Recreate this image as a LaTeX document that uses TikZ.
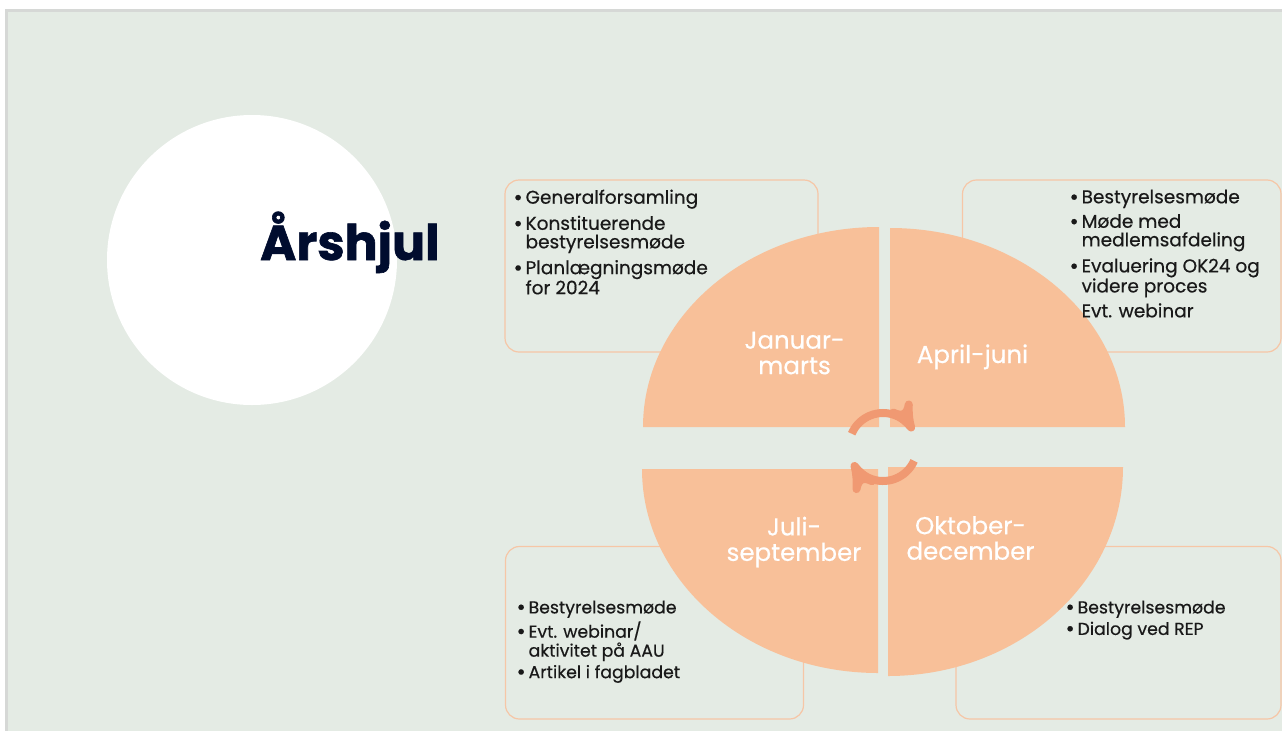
\documentclass[tikz,border=0pt]{standalone}
\usepackage{fontspec}
\setmainfont{Poppins}
\newfontfamily\medium{Poppins}[FakeBold=0.45]
\newfontfamily\heavy{Poppins}[BoldFeatures={FakeBold=1.2}]
\usepackage{tikz}
\usetikzlibrary{arrows}
\definecolor{bggreen}{RGB}{228,235,228}
\definecolor{edgegray}{RGB}{214,216,214}
\definecolor{peach}{RGB}{248,192,153}
\definecolor{boxline}{RGB}{246,198,166}
\definecolor{cyclecol}{RGB}{240,153,114}
\definecolor{navy}{RGB}{0,12,46}
\tikzstyle{quarter} = [fill=peach]
\tikzstyle{slot} = [draw=boxline, line width=1.2pt, rounded corners=14pt,
    minimum width=313pt, minimum height=172pt]
\tikzstyle{items} = [inner sep=0pt, align=left, anchor=north west, text=black!90]
\tikzstyle{bigitems} = [items, font=\medium\fontsize{18.5}{18.5}\selectfont]
\tikzstyle{smallitems} = [items, font=\medium\fontsize{17.3}{19}\selectfont]
\tikzstyle{season} = [text=white, align=center, font=\medium\fontsize{24.5}{25.5}\selectfont]
\tikzstyle{cyc} = [draw=cyclecol, line width=8pt, -stealth']
\newcommand{\blt}{\makebox[12pt][l]{\raisebox{-1.2pt}{\fontsize{22}{0}\selectfont\textbullet}}}
\newcommand{\ind}{\hspace*{12pt}}
\begin{document}
\begin{tikzpicture}[x=1pt,y=-1pt]
  \useasboundingbox (0,0) rectangle (1282,731);
  \fill[white] (0,0) rectangle (1282,731);
  \fill[edgegray] (5,9) rectangle (1282,731);
  \fill[bggreen] (8,12) rectangle (1282,731);
  \fill[white] (252,260) circle[radius=145];

  \node[slot]                                          (janbox) at (661.5,266) {};
  \node[slot, minimum width=318.5pt]                   (aprbox) at (1121.75,266) {};
  \node[slot, minimum width=298pt, minimum height=172.5pt] (julbox) at (654.5,632.75) {};
  \node[slot, minimum width=325pt, minimum height=172.5pt] (oktbox) at (1118.5,632.75) {};

  \fill[quarter] (879,427) -- (643,427) arc[start angle=180, end angle=270, x radius=236, y radius=200] -- cycle;
  \fill[quarter] (890,427) -- (890,228) arc[start angle=270, end angle=360, x radius=235, y radius=199] -- cycle;
  \fill[quarter] (878,469) -- (642,469) arc[start angle=180, end angle=90, x radius=236, y radius=204] -- cycle;
  \fill[quarter] (888,467) -- (1123,467) arc[start angle=0, end angle=90, x radius=235, y radius=209] -- cycle;

  \coordinate (hub) at (883,447);
  \draw[cyc] ([shift={(-157:34)}]hub) arc[start angle=-157, end angle=-28, radius=34];
  \draw[cyc] ([shift={(24:34)}]hub) arc[start angle=24, end angle=153, radius=34];

  \node[font=\heavy\bfseries\fontsize{49}{49}\selectfont, text=navy, anchor=base west, inner sep=0pt]
       (title) at (260,260) {Årshjul};

  \node[season]              (jan) at (794.5,353) {Januar-\\marts};
  \node[season, anchor=base] (apr) at (972.5,363) {April-juni};
  \node[season]              (jul) at (794,542)   {Juli-\\september};
  \node[season]              (okt) at (970.5,538) {Oktober-\\december};

  \node[bigitems] (janlist) at ([shift={(9,10)}]janbox.north west)
       {\blt Generalforsamling\\[6pt]\blt Konstituerende\\\ind bestyrelsesmøde\\[6pt]\blt Planlægningsmøde\\\ind for 2024};
  \node[bigitems] (aprlist) at ([shift={(107.5,10)}]aprbox.north west)
       {\blt Bestyrelsesmøde\\[6pt]\blt Møde med\\\ind medlemsafdeling\\[6pt]\blt Evaluering OK24 og\\\ind videre proces\\[5pt]\ind Evt. webinar};
  \node[smallitems] (jullist) at ([shift={(11.5,54.5)}]julbox.north west)
       {\blt Bestyrelsesmøde\\[2.5pt]\blt Evt. webinar/\\\ind aktivitet på AAU\\[2.5pt]\blt Artikel i fagbladet};
  \node[smallitems] (oktlist) at ([shift={(110,54.5)}]oktbox.north west)
       {\blt Bestyrelsesmøde\\[2.5pt]\blt Dialog ved REP};
\end{tikzpicture}
\end{document}
